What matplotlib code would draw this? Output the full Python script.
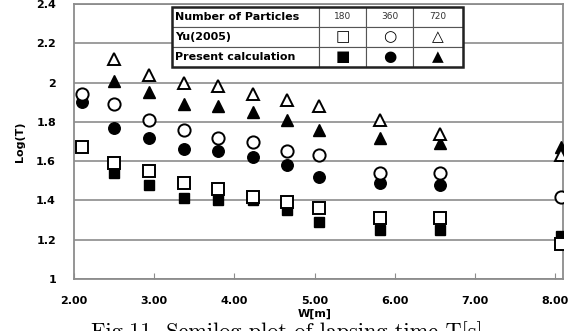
import numpy as np
import matplotlib
matplotlib.use("Agg")
import matplotlib.pyplot as plt
from matplotlib.patches import Rectangle

# Ширина W[m] для кожного стовпця точок
W = [2.10, 2.50, 2.93, 3.37, 3.79, 4.23, 4.66, 5.06, 5.82, 6.57, 8.08]

# Yu(2005): 180, 360, 720 частинок
yu_180 = [1.67, 1.59, 1.55, 1.49, 1.46, 1.42, 1.39, 1.36, 1.31, 1.31, 1.18]
yu_360 = [1.94, 1.89, 1.81, 1.76, 1.72, 1.70, 1.65, 1.63, 1.54, 1.54, 1.42]
yu_720 = [np.nan, 2.12, 2.04, 2.00, 1.98, 1.94, 1.91, 1.88, 1.81, 1.74, 1.63]

# Present calculation
pc_180 = [np.nan, 1.54, 1.48, 1.41, 1.40, 1.40, 1.35, 1.29, 1.25, 1.25, 1.22]
pc_360 = [1.90, 1.77, 1.72, 1.66, 1.65, 1.62, 1.58, 1.52, 1.49, 1.48, np.nan]
pc_720 = [np.nan, 2.01, 1.95, 1.89, 1.88, 1.85, 1.81, 1.76, 1.72, 1.69, 1.67]

x_ticks = [2, 3, 4, 5, 6, 7, 8]
y_ticks = [1, 1.2, 1.4, 1.6, 1.8, 2, 2.2, 2.4]
y_tick_labels = ["1", "1.2", "1.4", "1.6", "1.8", "2", "2.2", "2.4"]

particles = ["180", "360", "720"]
table_rows = [["Number of Particles"] + particles,
              ["Yu(2005)", "\u25a1", "\u25cb", "\u25b3"],
              ["Present calculation", "\u25a0", "\u25cf", "\u25b2"]]

plt.rcParams['font.family'] = ['DejaVu Sans']

fig = plt.figure(figsize=(5.74, 3.31), dpi=100)
ax = fig.add_axes([0.129, 0.157, 0.852, 0.831])

grey = "#8c8c8c"
ax.set_xlim(2, 8.1)
ax.set_ylim(1, 2.4)
ax.set_yticks(y_ticks)
ax.yaxis.grid(True, color=grey, lw=1.2)
ax.set_axisbelow(True)
for s in ax.spines.values():
    s.set_color(grey)
    s.set_linewidth(1.3)

# Спочатку суцільні маркери, потім порожні поверх
ms = 8.3
ax.plot(W, pc_180, ls="none", marker="s", ms=ms - 0.5, color="black", zorder=3)
ax.plot(W, pc_360, ls="none", marker="o", ms=ms, color="black", zorder=3)
ax.plot(W, pc_720, ls="none", marker="^", ms=ms, color="black", zorder=3)
ax.plot(W, yu_180, ls="none", marker="s", ms=ms, mfc="white", mec="black", mew=1.4, zorder=4)
ax.plot(W, yu_360, ls="none", marker="o", ms=ms + 0.5, mfc="white", mec="black", mew=1.4, zorder=4)
ax.plot(W, yu_720, ls="none", marker="^", ms=ms + 0.5, mfc="white", mec="black", mew=1.4, zorder=4)

ax.set_xticks(x_ticks)
ax.set_xticklabels([f"{v:.2f}" for v in x_ticks], fontsize=8, fontweight="bold")
ax.set_yticklabels(y_tick_labels, fontsize=8, fontweight="bold")
ax.tick_params(axis="x", direction="in", length=4, color=grey, pad=12)
ax.tick_params(axis="y", length=0, pad=13)

ax.set_ylabel("Log(T)", fontsize=8, fontweight="bold", labelpad=8)
ax.text(5.0, -0.128, "W[m]", transform=ax.get_xaxis_transform(), ha="center",
        va="center", fontsize=8, fontweight="bold")

# Таблиця-легенда
tbl = ax.table(cellText=table_rows, colWidths=[0.505, 0.1615, 0.1615, 0.172],
               bbox=[0.2004, 0.771, 0.5951, 0.218], cellLoc="center")
tbl.auto_set_font_size(False)
for (r, c), cell in tbl.get_celld().items():
    cell.set_edgecolor("#555555")
    cell.set_linewidth(0.8)
    cell.set_facecolor("white")
    txt = cell.get_text()
    if c == 0:
        txt.set_ha("left")
        cell.PAD = 0.02
        txt.set_fontsize(8)
        txt.set_fontweight("bold")
    elif r == 0:
        txt.set_fontsize(6.5)
        txt.set_color("#333333")
    else:
        txt.set_fontsize(11)
tbl.set_zorder(5)
ax.add_patch(Rectangle((0.2004, 0.771), 0.5951, 0.218, transform=ax.transAxes,
                       fill=False, lw=1.8, ec="#222222", zorder=6))

# Підпис рисунка (обрізаний знизу, як в оригіналі)
fig.text(0.5, 0.03, "Fig.11  Semilog plot of lapsing time T[s]", ha="center",
         va="top", fontsize=16, family="cmr10")

fig.savefig("out.png", dpi=100)
